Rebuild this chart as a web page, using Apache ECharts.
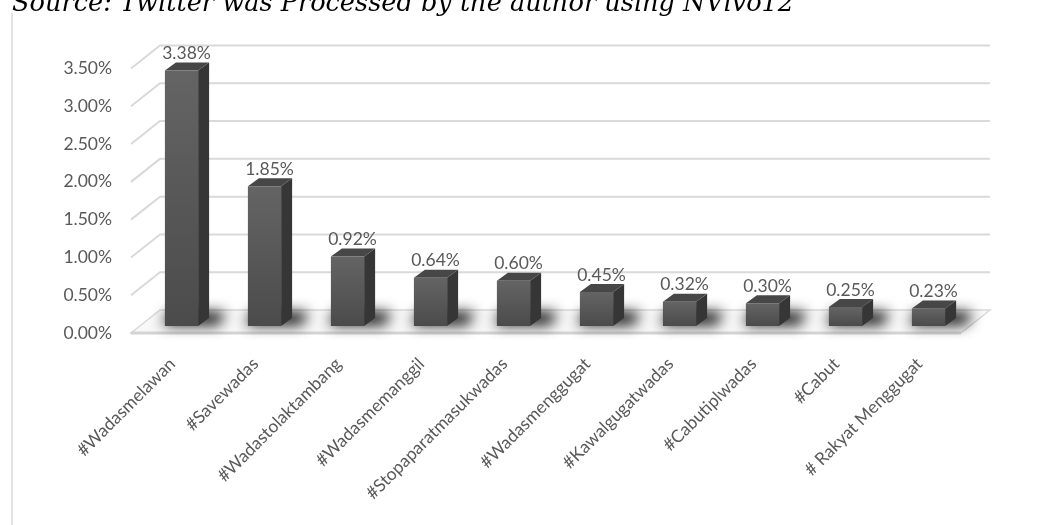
<!DOCTYPE html>
<html>
<head>
<meta charset="utf-8">
<script src="https://cdn.jsdelivr.net/npm/echarts@6/dist/echarts.min.js"></script>
<style>
    html, body { margin: 0; padding: 0; background: #fff; }
    #chart { width: 1038px; height: 525px; }
</style>
</head>
<body>
<div id="chart"></div>
<script>
const categories = ['#Wadasmelawan', '#Savewadas', '#Wadastolaktambang', '#Wadasmemanggil',
    '#Stopaparatmasukwadas', '#Wadasmenggugat', '#Kawalgugatwadas', '#Cabutiplwadas', '#Cabut', '# Rakyat Menggugat']
const shares = [3.38, 1.85, 0.92, 0.64, 0.60, 0.45, 0.32, 0.30, 0.25, 0.23]
const yTicks = [0, 0.5, 1, 1.5, 2, 2.5, 3, 3.5]

const BACK = [29, -23]   // back wall offset from the front plane
const BAR = [9, -7]      // where bars stand
const DEPTH = [11, -8]   // bar thickness
const gridColor = '#d9d9d9'
const textColor = '#595959'

const myChart = echarts.init(document.getElementById('chart'))

// back wall lines + floor
const renderWall = (params, api) => {
    const v = api.value(0)
    const cs = params.coordSys
    const y = api.coord([0, v])[1]
    const x0 = cs.x
    const x1 = cs.x + cs.width
    const children = []
    if (v === 0) {
        children.push({
            type: 'polygon',
            shape: { points: [[x0, y], [x1, y], [x1 + BACK[0], y + BACK[1]], [x0 + BACK[0], y + BACK[1]]] },
            style: { fill: '#f8f8f8', stroke: gridColor, lineWidth: 1.5 }
        })
        children.push({
            type: 'line',
            shape: { x1: x0, y1: y, x2: x1, y2: y },
            style: { stroke: '#d4d4d4', lineWidth: 3 }
        })
    } else {
        children.push({
            type: 'polyline',
            shape: { points: [[x0, y], [x0 + BACK[0], y + BACK[1]], [x1 + BACK[0], y + BACK[1]]] },
            style: { stroke: gridColor, lineWidth: 2, fill: null }
        })
    }
    return { type: 'group', children }
}

const renderBar = (params, api) => {
    const idx = api.value(0)
    const val = api.value(1)
    const top = api.coord([idx, val])
    const base = api.coord([idx, 0])
    const w = api.size([1, 0])[0] * 0.4
    const xl = top[0] - w / 2 + BAR[0]
    const xr = xl + w
    const yt = top[1] + BAR[1]
    const yb = base[1] + BAR[1]
    const dx = DEPTH[0], dy = DEPTH[1]
    const off = 3000 // draw shape off screen, keep only its blurred shadow
    return {
        type: 'group',
        children: [
            {
                type: 'polygon',
                shape: { points: [[xl - 2 - off, yb - 1], [xr + dx + 10 - off, yb - 1], [xr + dx + 16 - off, yb + dy - 6], [xl + 4 - off, yb + dy - 6]] },
                style: { fill: '#000', shadowBlur: 14, shadowOffsetX: off, shadowColor: 'rgba(0,0,0,0.95)' }
            },
            {
                type: 'polygon',
                shape: { points: [[xr, yt], [xr + dx, yt + dy], [xr + dx, yb + dy], [xr, yb]] },
                style: { fill: '#363636' }
            },
            {
                type: 'polygon',
                shape: { points: [[xl, yt], [xr, yt], [xr + dx, yt + dy], [xl + dx, yt + dy]] },
                style: { fill: '#474747' }
            },
            {
                type: 'rect',
                shape: { x: xl, y: yt, width: w, height: yb - yt },
                style: {
                    fill: new echarts.graphic.LinearGradient(0, 0, 0, 1, [
                        { offset: 0, color: '#646464' },
                        { offset: 1, color: '#4b4b4b' }
                    ])
                }
            },
            {
                type: 'text',
                style: {
                    text: val.toFixed(2) + '%',
                    x: (xl + xr) / 2 + 5,
                    y: yt + dy,
                    align: 'center',
                    verticalAlign: 'bottom',
                    fill: textColor,
                    font: '17.5px Lato'
                }
            }
        ]
    }
}

const option = {
    animation: false,
    grid: { left: 131, right: 77, top: 68.5, bottom: 192 },
    graphic: [
        {
            type: 'text',
            left: 12,
            top: -9,
            style: {
                text: 'Source: Twitter was Processed by the author using NVivo12',
                font: 'italic 25.6px "DejaVu Serif"',
                fill: '#000'
            }
        },
        {
            type: 'line',
            shape: { x1: 12, y1: 13, x2: 12, y2: 525 },
            style: { stroke: gridColor, lineWidth: 1.5 }
        }
    ],
    xAxis: {
        type: 'category',
        data: categories,
        axisLine: { show: false },
        axisTick: { show: false },
        axisLabel: {
            interval: 0,
            rotate: 45,
            margin: 28,
            color: textColor,
            fontFamily: 'Lato',
            fontSize: 17.5
        }
    },
    yAxis: {
        type: 'value',
        min: 0,
        max: 3.5,
        interval: 0.5,
        axisLine: { show: false },
        axisTick: { show: false },
        splitLine: { show: false },
        axisLabel: {
            margin: 19,
            padding: [4, 0, 0, 0],
            color: textColor,
            fontFamily: 'Lato',
            fontSize: 17.5,
            formatter: v => v.toFixed(2) + '%'
        }
    },
    series: [
        {
            type: 'custom',
            renderItem: renderWall,
            data: yTicks.map(v => [v]),
            encode: { y: 0 },
            silent: true,
            z: 1
        },
        {
            type: 'custom',
            renderItem: renderBar,
            data: shares.map((v, i) => [i, v]),
            encode: { x: 0, y: 1 },
            z: 2
        }
    ]
}

myChart.setOption(option)
</script>
</body>
</html>
